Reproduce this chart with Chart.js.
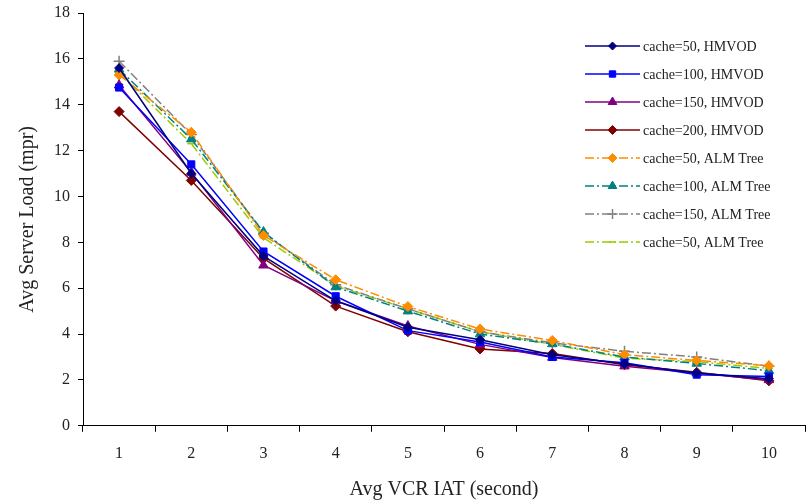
<!DOCTYPE html>
<html>
<head>
<meta charset="utf-8">
<script src="https://cdn.jsdelivr.net/npm/chart.js@4.4.1/dist/chart.umd.min.js"></script>
<style>
  html, body { margin: 0; padding: 0; background: #fff; }
  canvas { display: block; }
</style>
</head>
<body>
<canvas id="chart" width="808" height="503"></canvas>
<script>
const iatLabels = ['1', '2', '3', '4', '5', '6', '7', '8', '9', '10'];

// HMVOD
const hm50  = [15.6, 11.0, 7.4, 5.45, 4.3, 3.75, 3.1, 2.7, 2.3, 2.05];
const hm100 = [14.75, 11.4, 7.6, 5.65, 4.15, 3.65, 3.0, 2.75, 2.23, 2.15];
const hm150 = [14.85, 11.05, 7.0, 5.45, 4.35, 3.55, 2.98, 2.6, 2.3, 2.0];
const hm200 = [13.7, 10.7, 7.3, 5.22, 4.1, 3.35, 3.15, 2.66, 2.33, 1.96];
// ALM Tree
const alm50  = [15.3, 12.8, 8.3, 6.37, 5.2, 4.22, 3.72, 3.1, 2.85, 2.62];
const alm100 = [15.55, 12.5, 8.45, 6.05, 5.0, 4.0, 3.57, 3.0, 2.72, 2.4];
const alm150 = [15.9, 12.7, 8.4, 6.15, 5.1, 4.1, 3.62, 3.25, 3.0, 2.6];
const alm50b = [15.4, 12.3, 8.2, 6.1, 5.1, 4.1, 3.55, 2.95, 2.8, 2.5];

const solid = [];
const dashDot = [9, 3, 2, 3];
const serif = "'Liberation Serif', 'DejaVu Serif', serif";

function series(label, data, color, pointStyle, radius, dash) {
  return {
    label: label,
    data: data,
    borderColor: color,
    backgroundColor: color,
    pointBackgroundColor: color,
    pointBorderColor: color,
    pointStyle: pointStyle,
    pointRadius: radius,
    pointBorderWidth: pointStyle === 'cross' || pointStyle === 'line' ? 1.5 : 1,
    borderWidth: 1.5,
    borderDash: dash,
    tension: 0,
    fill: false,
    clip: false
  };
}

const datasets = [
  series('cache=50, HMVOD', hm50, '#000080', 'rectRot', 4.5, solid),
  series('cache=100, HMVOD', hm100, '#0000ff', 'rect', 5, solid),
  series('cache=150, HMVOD', hm150, '#800080', 'triangle', 5.5, solid),
  series('cache=200, HMVOD', hm200, '#800000', 'rectRot', 5, solid),
  series('cache=50, ALM Tree', alm50, '#ff8c00', 'rectRot', 5, dashDot),
  series('cache=100, ALM Tree', alm100, '#008080', 'triangle', 5.5, dashDot),
  series('cache=150, ALM Tree', alm150, '#808080', 'cross', 5.5, dashDot),
  series('cache=50, ALM Tree', alm50b, '#99cc00', 'line', 4, dashDot)
];

// legend drawn inside the plot, top right
const boxLegend = {
  id: 'boxLegend',
  afterDatasetsDraw(chart) {
    const ctx = chart.ctx;
    const x0 = 585, y0 = 46, step = 28, len = 55;
    ctx.save();
    chart.data.datasets.forEach((ds, i) => {
      const y = y0 + i * step;
      ctx.strokeStyle = ds.borderColor;
      ctx.lineWidth = 1.5;
      ctx.setLineDash(ds.borderDash);
      ctx.beginPath();
      ctx.moveTo(x0, y);
      ctx.lineTo(x0 + len, y);
      ctx.stroke();
      ctx.setLineDash([]);
      ctx.fillStyle = ds.backgroundColor;
      ctx.lineWidth = ds.pointBorderWidth;
      Chart.helpers.drawPoint(ctx, {
        pointStyle: ds.pointStyle,
        radius: ds.pointRadius - 0.5,
        borderWidth: ds.pointBorderWidth,
        rotation: 0
      }, x0 + len / 2, y);
      ctx.fillStyle = '#222';
      ctx.font = '14px ' + serif;
      ctx.textBaseline = 'middle';
      ctx.textAlign = 'left';
      ctx.fillText(ds.label, x0 + len + 3, y + 1);
    });
    ctx.restore();
  }
};

new Chart(document.getElementById('chart').getContext('2d'), {
  type: 'line',
  data: { labels: iatLabels, datasets: datasets },
  options: {
    responsive: false,
    animation: false,
    layout: { autoPadding: false, padding: { top: 0, right: 3, left: 16, bottom: 1 } },
    plugins: {
      legend: { display: false },
      tooltip: { enabled: false }
    },
    scales: {
      x: {
        offset: true,
        grid: {
          display: true,
          offset: true,
          drawOnChartArea: false,
          drawTicks: true,
          tickLength: 6,
          color: '#000'
        },
        border: { display: true, color: '#000', width: 1 },
        ticks: {
          color: '#222',
          padding: 12,
          font: { family: serif, size: 16 }
        },
        title: {
          display: true,
          text: 'Avg VCR IAT (second)',
          color: '#222',
          padding: { top: 3, bottom: 0 },
          font: { family: serif, size: 20 }
        }
      },
      y: {
        min: 0,
        max: 18,
        afterFit(scale) { scale.paddingTop = 13; },
        ticks: {
          stepSize: 2,
          color: '#222',
          padding: 8,
          font: { family: serif, size: 16 }
        },
        grid: {
          display: true,
          drawOnChartArea: false,
          drawTicks: true,
          tickLength: 5,
          color: '#000'
        },
        border: { display: true, color: '#000', width: 1 },
        title: {
          display: true,
          text: 'Avg Server Load (mpr)',
          color: '#222',
          padding: { top: 0, bottom: 6 },
          font: { family: serif, size: 20 }
        }
      }
    }
  },
  plugins: [boxLegend]
});
</script>
</body>
</html>
